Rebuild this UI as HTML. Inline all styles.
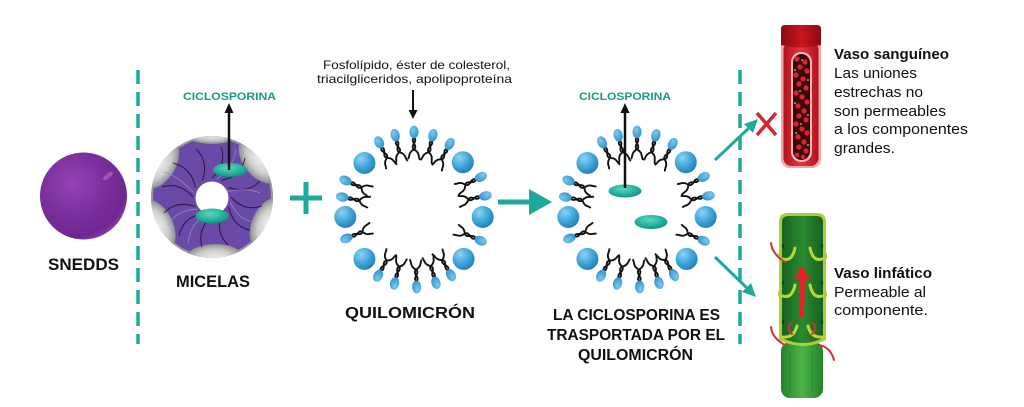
<!DOCTYPE html>
<html><head><meta charset="utf-8"><style>
html,body{margin:0;padding:0;background:#fff;}
svg{display:block;}
text{font-family:"Liberation Sans",sans-serif;}
</style></head><body>
<svg width="1024" height="407" viewBox="0 0 1024 407" xmlns="http://www.w3.org/2000/svg">
<defs>
  <radialGradient id="snedds" cx="0.38" cy="0.36" r="0.68">
    <stop offset="0" stop-color="#9444b4"/>
    <stop offset="0.55" stop-color="#7b2e9c"/>
    <stop offset="0.9" stop-color="#6e2790"/>
    <stop offset="1" stop-color="#8a3aa8"/>
  </radialGradient>
  <radialGradient id="ball" cx="0.35" cy="0.3" r="0.75">
    <stop offset="0" stop-color="#8fd3f2"/>
    <stop offset="0.5" stop-color="#45aadb"/>
    <stop offset="1" stop-color="#1f7fb8"/>
  </radialGradient>
  <radialGradient id="head" cx="0.4" cy="0.3" r="0.8">
    <stop offset="0" stop-color="#7cc9ee"/>
    <stop offset="1" stop-color="#2a8cc6"/>
  </radialGradient>
  <radialGradient id="green" cx="0.45" cy="0.35" r="0.7">
    <stop offset="0" stop-color="#5fd6bf"/>
    <stop offset="0.6" stop-color="#22b09a"/>
    <stop offset="1" stop-color="#0f8a78"/>
  </radialGradient>
  <radialGradient id="grayl" cx="0.5" cy="0.5" r="0.55">
    <stop offset="0" stop-color="#f2f2f2"/>
    <stop offset="0.55" stop-color="#cfcfcf"/>
    <stop offset="0.85" stop-color="#9a9a9a"/>
    <stop offset="1" stop-color="#6f6f6f"/>
  </radialGradient>
  <linearGradient id="cap" x1="0" x2="1" y1="0" y2="0">
    <stop offset="0" stop-color="#8a0a10"/>
    <stop offset="0.5" stop-color="#c8161e"/>
    <stop offset="1" stop-color="#8a0a10"/>
  </linearGradient>
  <linearGradient id="redbody" x1="0" x2="1" y1="0" y2="0">
    <stop offset="0" stop-color="#b3121a"/>
    <stop offset="0.5" stop-color="#e2383e"/>
    <stop offset="1" stop-color="#b3121a"/>
  </linearGradient>
  <linearGradient id="lymphTop" x1="0" x2="1" y1="0" y2="0">
    <stop offset="0" stop-color="#17621f"/>
    <stop offset="0.5" stop-color="#2c8a30"/>
    <stop offset="1" stop-color="#17621f"/>
  </linearGradient>
  <linearGradient id="lymphBot" x1="0" x2="1" y1="0" y2="0">
    <stop offset="0" stop-color="#23822a"/>
    <stop offset="0.5" stop-color="#4db34a"/>
    <stop offset="1" stop-color="#23822a"/>
  </linearGradient>
  <clipPath id="micClip"><circle cx="212" cy="197" r="61"/></clipPath>

  <g id="lip">
    <path d="M-1,5 C6,9 -6,14 1,18 C6,21 4,25 6,28" fill="none" stroke="#111" stroke-width="1.9"/>
    <path d="M1,5 C-6,9 6,14 -1,18 C-6,21 -4,25 -6,27" fill="none" stroke="#111" stroke-width="1.9"/>
    <ellipse cx="0" cy="0" rx="4.6" ry="6.4" fill="url(#head)"/>
  </g>

  <g id="chylo">
    <circle cx="-49.6" cy="-48" r="11" fill="url(#ball)"/>
    <circle cx="48.8" cy="-48.8" r="11" fill="url(#ball)"/>
    <circle cx="-68.7" cy="6" r="11" fill="url(#ball)"/>
    <circle cx="68.7" cy="6" r="11" fill="url(#ball)"/>
    <circle cx="-49.6" cy="47.9" r="11" fill="url(#ball)"/>
    <circle cx="49.6" cy="47.9" r="11" fill="url(#ball)"/>
    <use href="#lip" transform="rotate(-27) translate(0,-77)"/>
    <use href="#lip" transform="rotate(-14) translate(0,-78)"/>
    <use href="#lip" transform="rotate(0) translate(0,-79)"/>
    <use href="#lip" transform="rotate(14) translate(0,-78)"/>
    <use href="#lip" transform="rotate(28) translate(0,-76)"/>
    <use href="#lip" transform="rotate(209) translate(0,-74)"/>
    <use href="#lip" transform="rotate(195) translate(0,-75)"/>
    <use href="#lip" transform="rotate(178) translate(0,-76)"/>
    <use href="#lip" transform="rotate(163) translate(0,-75)"/>
    <use href="#lip" transform="rotate(150) translate(0,-74)"/>
    <use href="#lip" transform="rotate(-66) translate(0,-75)"/>
    <use href="#lip" transform="rotate(-79) translate(0,-73)"/>
    <use href="#lip" transform="rotate(-112) translate(0,-73)"/>
    <use href="#lip" transform="rotate(63) translate(0,-75)"/>
    <use href="#lip" transform="rotate(78) translate(0,-73)"/>
    <use href="#lip" transform="rotate(114) translate(0,-73)"/>
  </g>
</defs>

<!-- dashed dividers -->
<line x1="138" y1="70" x2="138" y2="344" stroke="#1fa99a" stroke-width="3.5" stroke-dasharray="14 8"/>
<line x1="740" y1="70" x2="740" y2="344" stroke="#1fa99a" stroke-width="3.5" stroke-dasharray="14 8"/>

<!-- SNEDDS sphere -->
<circle cx="83.5" cy="196" r="43.5" fill="url(#snedds)"/>
<ellipse cx="108" cy="176" rx="6" ry="2.5" fill="#c58ad8" opacity="0.45" transform="rotate(-40 108 176)"/>
<text x="83.5" y="270" font-size="17" font-weight="bold" text-anchor="middle" textLength="71" lengthAdjust="spacingAndGlyphs" fill="#111">SNEDDS</text>

<!-- Micelle -->
<g clip-path="url(#micClip)">
  <circle cx="212" cy="197" r="61" fill="#6a4aa6"/>
  <circle cx="212" cy="197" r="61" fill="none" stroke="#9a9a9a" stroke-width="4"/>
  <g fill="url(#grayl)">
    <ellipse cx="0" cy="0" rx="28" ry="17" transform="translate(212,197) rotate(-148) translate(63,0) rotate(90)"/>
    <ellipse cx="0" cy="0" rx="28" ry="11" transform="translate(212,197) rotate(-90) translate(64,0) rotate(90)"/>
    <ellipse cx="0" cy="0" rx="28" ry="18" transform="translate(212,197) rotate(-38) translate(62,0) rotate(90)"/>
    <ellipse cx="0" cy="0" rx="28" ry="17" transform="translate(212,197) rotate(25) translate(63,0) rotate(90)"/>
    <ellipse cx="0" cy="0" rx="30" ry="16" transform="translate(212,197) rotate(88) translate(63,0) rotate(90)"/>
    <ellipse cx="0" cy="0" rx="28" ry="17" transform="translate(212,197) rotate(153) translate(63,0) rotate(90)"/>
  </g>
  <g fill="none" stroke="#1a1238" stroke-width="1" opacity="0.85">
    <path d="M231,197 Q244.6,212.2 262,206"/>
    <path d="M228.5,206.5 Q232.7,226.5 250,230"/>
    <path d="M221.5,213.5 Q215.1,232.9 228,245"/>
    <path d="M212,216 Q196.8,229.6 202,247"/>
    <path d="M202.5,213.5 Q182.5,217.7 179,236"/>
    <path d="M195.5,206.5 Q176.1,200.1 164,213"/>
    <path d="M193,197 Q179.4,181.8 162,187"/>
    <path d="M195.5,187.5 Q191.3,167.5 173,163"/>
    <path d="M202.5,180.5 Q208.9,161.1 196,149"/>
    <path d="M212,178 Q227.2,164.4 221,147"/>
    <path d="M221.5,180.5 Q241.5,176.3 245,158"/>
    <path d="M228.5,187.5 Q247.9,193.9 260,181"/>
  </g>
  <g fill="none" stroke="#9c92c0" stroke-width="1" opacity="0.7">
    <path d="M230,202 Q240,222 256,222"/>
    <path d="M207,215 Q190,222 188,244"/>
    <path d="M194,193 Q178,176 164,172"/>
    <path d="M217,179 Q234,166 236,149"/>
    <path d="M226,192 Q248,187 260,193"/>
    <path d="M198,209 Q176,210 168,225"/>
  </g>
</g>
<circle cx="212" cy="198" r="16.5" fill="#fff"/>
<ellipse cx="230" cy="170" rx="17" ry="7" fill="url(#green)"/>
<ellipse cx="212" cy="216" rx="16.5" ry="7.5" fill="url(#green)"/>
<line x1="229" y1="170" x2="229" y2="112" stroke="#111" stroke-width="2.5"/>
<polygon points="229,103 224.5,113 233.5,113" fill="#111"/>
<text x="229.5" y="100" font-size="11" font-weight="bold" text-anchor="middle" textLength="93" lengthAdjust="spacingAndGlyphs" fill="#1a9a84">CICLOSPORINA</text>
<text x="213" y="287" font-size="17" font-weight="bold" text-anchor="middle" textLength="74" lengthAdjust="spacingAndGlyphs" fill="#111">MICELAS</text>

<!-- plus -->
<line x1="290" y1="198" x2="322" y2="198" stroke="#1fa99a" stroke-width="5"/>
<line x1="306" y1="182" x2="306" y2="214" stroke="#1fa99a" stroke-width="5"/>

<!-- Chylomicron 1 -->
<text x="416.5" y="69" font-size="12" text-anchor="middle" textLength="187" lengthAdjust="spacingAndGlyphs" fill="#111">Fosfolípido, éster de colesterol,</text>
<text x="414.5" y="83" font-size="12" text-anchor="middle" textLength="195" lengthAdjust="spacingAndGlyphs" fill="#111">triacilgliceridos, apolipoproteína</text>
<line x1="413" y1="90" x2="413" y2="112" stroke="#111" stroke-width="2"/>
<polygon points="413,119 408.5,110 417.5,110" fill="#111"/>
<use href="#chylo" transform="translate(414,211)"/>
<text x="410" y="318" font-size="16" font-weight="bold" text-anchor="middle" textLength="130" lengthAdjust="spacingAndGlyphs" fill="#111">QUILOMICRÓN</text>

<!-- arrow between -->
<line x1="498" y1="202" x2="532" y2="202" stroke="#1fa99a" stroke-width="5"/>
<polygon points="529,189 552,202 529,215" fill="#1fa99a"/>

<!-- Chylomicron 2 -->
<use href="#chylo" transform="translate(637,211)"/>
<ellipse cx="625" cy="191" rx="16.5" ry="6.5" fill="url(#green)"/>
<ellipse cx="651" cy="222" rx="16.5" ry="7" fill="url(#green)"/>
<line x1="625" y1="188" x2="625" y2="112" stroke="#111" stroke-width="2.5"/>
<polygon points="625,103 620.5,113 629.5,113" fill="#111"/>
<text x="625" y="100" font-size="11" font-weight="bold" text-anchor="middle" textLength="92" lengthAdjust="spacingAndGlyphs" fill="#1a9a84">CICLOSPORINA</text>
<text x="636.5" y="320" font-size="16" font-weight="bold" text-anchor="middle" textLength="167" lengthAdjust="spacingAndGlyphs" fill="#111">LA CICLOSPORINA ES</text>
<text x="636" y="340" font-size="16" font-weight="bold" text-anchor="middle" textLength="178" lengthAdjust="spacingAndGlyphs" fill="#111">TRASPORTADA POR EL</text>
<text x="635.5" y="360" font-size="16" font-weight="bold" text-anchor="middle" textLength="115" lengthAdjust="spacingAndGlyphs" fill="#111">QUILOMICRÓN</text>

<!-- diagonal arrows -->
<line x1="715" y1="160" x2="751" y2="126" stroke="#1fa99a" stroke-width="3"/>
<polygon points="758,119 744,124 753,133" fill="#1fa99a"/>
<line x1="715" y1="257" x2="749" y2="290" stroke="#1fa99a" stroke-width="3"/>
<polygon points="756,297 751,283 742,292" fill="#1fa99a"/>

<!-- red X -->
<line x1="757" y1="113" x2="776" y2="135" stroke="#d7262f" stroke-width="3.5"/>
<line x1="776" y1="113" x2="757" y2="135" stroke="#d7262f" stroke-width="3.5"/>

<!-- Blood vessel -->
<rect x="781" y="38" width="40" height="130" rx="9" fill="#f2a3a8"/>
<rect x="783.5" y="42" width="35" height="124" rx="8" fill="url(#redbody)"/>
<path d="M781,29 Q781,25 785,25 L817,25 Q821,25 821,29 L821,45 Q801,50 781,45 Z" fill="url(#cap)"/>
<rect x="791" y="52" width="21" height="110" rx="10" fill="#f5b8bb"/>
<rect x="793" y="54" width="17" height="106" rx="8.5" fill="#3b0707"/>
<g fill="#d9262e" stroke="#a01018" stroke-width="0.5">
  <circle cx="797" cy="59" r="2.6"/><circle cx="805" cy="62" r="2.6"/><circle cx="800" cy="67" r="2.6"/>
  <circle cx="807" cy="71" r="2.6"/><circle cx="796" cy="75" r="2.6"/><circle cx="803" cy="79" r="2.6"/>
  <circle cx="799" cy="84" r="2.6"/><circle cx="806" cy="88" r="2.6"/><circle cx="796" cy="93" r="2.6"/>
  <circle cx="802" cy="97" r="2.6"/><circle cx="807" cy="102" r="2.6"/><circle cx="798" cy="106" r="2.6"/>
  <circle cx="804" cy="111" r="2.6"/><circle cx="799" cy="116" r="2.6"/><circle cx="806" cy="120" r="2.6"/>
  <circle cx="796" cy="124" r="2.6"/><circle cx="802" cy="129" r="2.6"/><circle cx="807" cy="133" r="2.6"/>
  <circle cx="798" cy="137" r="2.6"/><circle cx="804" cy="142" r="2.6"/><circle cx="799" cy="147" r="2.6"/>
  <circle cx="806" cy="151" r="2.6"/><circle cx="797" cy="155" r="2.4"/><circle cx="803" cy="157" r="2.2"/>
</g>
<g fill="#fff">
  <circle cx="802" cy="60" r="0.8"/><circle cx="795" cy="70" r="0.8"/><circle cx="808" cy="80" r="0.8"/>
  <circle cx="800" cy="91" r="0.8"/><circle cx="795" cy="103" r="0.8"/><circle cx="808" cy="115" r="0.8"/>
  <circle cx="801" cy="124" r="0.8"/><circle cx="796" cy="133" r="0.8"/><circle cx="808" cy="145" r="0.8"/>
</g>
<text x="834" y="59" font-size="15" font-weight="bold" textLength="115" lengthAdjust="spacingAndGlyphs" fill="#111">Vaso sanguíneo</text>
<text x="834" y="78" font-size="15" textLength="83" lengthAdjust="spacingAndGlyphs" fill="#111">Las uniones</text>
<text x="834" y="97" font-size="15" textLength="89" lengthAdjust="spacingAndGlyphs" fill="#111">estrechas no</text>
<text x="834" y="116" font-size="15" textLength="112" lengthAdjust="spacingAndGlyphs" fill="#111">son permeables</text>
<text x="834" y="134" font-size="15" textLength="134" lengthAdjust="spacingAndGlyphs" fill="#111">a los componentes</text>
<text x="834" y="153" font-size="15" textLength="61" lengthAdjust="spacingAndGlyphs" fill="#111">grandes.</text>

<!-- Lymph vessel -->
<rect x="781" y="342" width="42" height="56" rx="9" fill="url(#lymphBot)"/>
<path d="M790,352 L790,392 M812,352 L812,392" stroke="#1f7a25" stroke-width="0.8" opacity="0.6"/>
<path d="M779,222 Q779,213 788,213 L817,213 Q826,213 826,222 L826,252 Q828,256 826,260 L826,290 Q828,294 826,298 L826,340 Q803,352 779,340 L779,298 Q777,294 779,290 L779,260 Q777,256 779,252 Z" fill="#a9cf3c"/>
<path d="M782,222 Q782,216 789,216 L816,216 Q823,216 823,222 L823,338 Q803,348 782,338 Z" fill="url(#lymphTop)"/>
<g fill="none" stroke="#b8d83a" stroke-width="3" stroke-linecap="round">
  <path d="M783,259 Q792,262 795,248"/>
  <path d="M822,259 Q813,262 810,248"/>
  <path d="M783,296 Q792,299 795,285"/>
  <path d="M822,296 Q813,299 810,285"/>
  <path d="M783,337 Q794,338 797,326"/>
  <path d="M822,337 Q811,338 808,326"/>
</g>
<g fill="#0f4a14">
  <ellipse cx="783" cy="246" rx="1.2" ry="2.5"/><ellipse cx="822" cy="246" rx="1.2" ry="2.5"/>
  <ellipse cx="783" cy="283" rx="1.2" ry="2.5"/><ellipse cx="822" cy="283" rx="1.2" ry="2.5"/>
  <ellipse cx="783" cy="322" rx="1.2" ry="2.5"/><ellipse cx="822" cy="322" rx="1.2" ry="2.5"/>
</g>
<polygon points="800,317 804,317 805,278 799,278" fill="#e8202a"/>
<polygon points="794,280 802,265 810,280" fill="#e8202a"/>
<g fill="none" stroke="#d4303a" stroke-width="2" stroke-linecap="round">
  <path d="M771,243 Q772,254 785,262"/>
  <path d="M771,327 Q772,338 785,345"/>
  <path d="M818,345 Q830,346 834,360"/>
  <path d="M792,334 Q786,329 791,323"/>
  <path d="M812,334 Q818,329 813,323"/>
</g>
<text x="834" y="278" font-size="15" font-weight="bold" textLength="98" lengthAdjust="spacingAndGlyphs" fill="#111">Vaso linfático</text>
<text x="834" y="297" font-size="15" textLength="92" lengthAdjust="spacingAndGlyphs" fill="#111">Permeable al</text>
<text x="834" y="315" font-size="15" textLength="94" lengthAdjust="spacingAndGlyphs" fill="#111">componente.</text>
</svg>
</body></html>
